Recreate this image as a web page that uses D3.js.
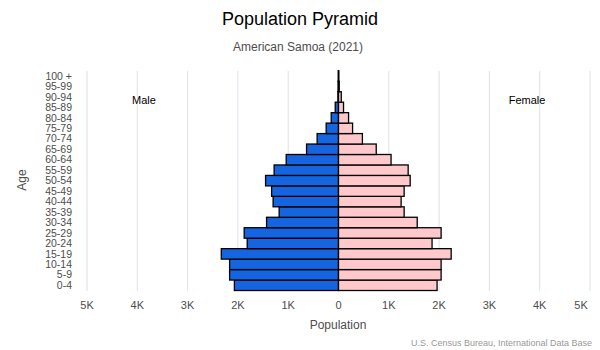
<!DOCTYPE html>
<html>
<head>
<meta charset="utf-8">
<script src="https://cdn.jsdelivr.net/npm/d3@7"></script>
<style>
  body { margin: 0; background: #fff; }
  text { font-family: "Liberation Sans", Arial, sans-serif; }
</style>
</head>
<body>
<div id="chart"></div>
<script>
// age groups, bottom to top
var ageGroups = ["0-4","5-9","10-14","15-19","20-24","25-29","30-34","35-39","40-44","45-49",
                 "50-54","55-59","60-64","65-69","70-74","75-79","80-84","85-89","90-94","95-99","100 +"];
var male   = [2070,2165,2165,2330,1815,1875,1430,1180,1300,1330,1450,1280,1040,635,425,245,145,65,12,8,4];
var female = [1960,2040,2040,2240,1860,2040,1565,1305,1245,1305,1425,1385,1045,750,475,280,200,100,55,15,6];
var xTicks = [-5000,-4000,-3000,-2000,-1000,0,1000,2000,3000,4000,5000];

var full_width = 600, full_height = 350;

var svg = d3.select("#chart")
            .append("svg")
            .attr("width", full_width)
            .attr("height", full_height);

var x = d3.scaleLinear()
          .domain([-5000, 5000])
          .range([87, 590]);

var y = d3.scaleBand()
          .domain(ageGroups)
          .range([290.5, 70.8])
          .padding(0);

// gridlines
svg.append("g")
   .selectAll("line")
   .data(xTicks)
   .join("line")
   .attr("x1", d => x(d)).attr("x2", d => x(d))
   .attr("y1", 71).attr("y2", 291)
   .attr("stroke", "#e0e0e6")
   .attr("stroke-width", 1);

// male bars
svg.append("g")
   .selectAll("rect")
   .data(male)
   .join("rect")
   .attr("x", d => x(-d))
   .attr("width", d => x(0) - x(-d))
   .attr("y", (d, i) => y(ageGroups[i]))
   .attr("height", y.bandwidth())
   .attr("fill", "#1565e0")
   .attr("stroke", "#000")
   .attr("stroke-width", 1.3);

// female bars
svg.append("g")
   .selectAll("rect")
   .data(female)
   .join("rect")
   .attr("x", x(0))
   .attr("width", d => x(d) - x(0))
   .attr("y", (d, i) => y(ageGroups[i]))
   .attr("height", y.bandwidth())
   .attr("fill", "#ffc8cb")
   .attr("stroke", "#000")
   .attr("stroke-width", 1.3);

// y tick labels
svg.append("g")
   .selectAll("text")
   .data(ageGroups)
   .join("text")
   .attr("x", 72)
   .attr("y", d => y(d) + y.bandwidth() / 2)
   .attr("dy", "0.35em")
   .attr("text-anchor", "end")
   .attr("font-size", 10.5)
   .attr("fill", "#4d4d4d")
   .text(d => d);

// x tick labels
var fmt = d => d === 0 ? "0" : Math.abs(d / 1000) + "K";
svg.append("g")
   .selectAll("text")
   .data(xTicks)
   .join("text")
   .attr("x", d => d === 5000 ? x(d) - 9 : x(d))
   .attr("y", 305)
   .attr("dy", "0.35em")
   .attr("text-anchor", "middle")
   .attr("font-size", 11)
   .attr("fill", "#4d4d4d")
   .text(fmt);

// titles
svg.append("text")
   .attr("x", 300).attr("y", 25)
   .attr("text-anchor", "middle")
   .attr("font-size", 18)
   .attr("fill", "#000")
   .text("Population Pyramid");

svg.append("text")
   .attr("x", 298).attr("y", 51)
   .attr("text-anchor", "middle")
   .attr("font-size", 12)
   .attr("fill", "#4d4d4d")
   .text("American Samoa (2021)");

svg.append("text")
   .attr("x", 338).attr("y", 329)
   .attr("text-anchor", "middle")
   .attr("font-size", 12)
   .attr("fill", "#4d4d4d")
   .text("Population");

svg.append("text")
   .attr("transform", "translate(26,180) rotate(-90)")
   .attr("text-anchor", "middle")
   .attr("font-size", 12)
   .attr("fill", "#4d4d4d")
   .text("Age");

svg.append("text")
   .attr("x", 144).attr("y", 104)
   .attr("text-anchor", "middle")
   .attr("font-size", 11)
   .attr("fill", "#000")
   .text("Male");

svg.append("text")
   .attr("x", 527).attr("y", 104)
   .attr("text-anchor", "middle")
   .attr("font-size", 11)
   .attr("fill", "#000")
   .text("Female");

svg.append("text")
   .attr("x", 592).attr("y", 346)
   .attr("text-anchor", "end")
   .attr("font-size", 9)
   .attr("fill", "#999")
   .text("U.S. Census Bureau, International Data Base");
</script>
</body>
</html>
